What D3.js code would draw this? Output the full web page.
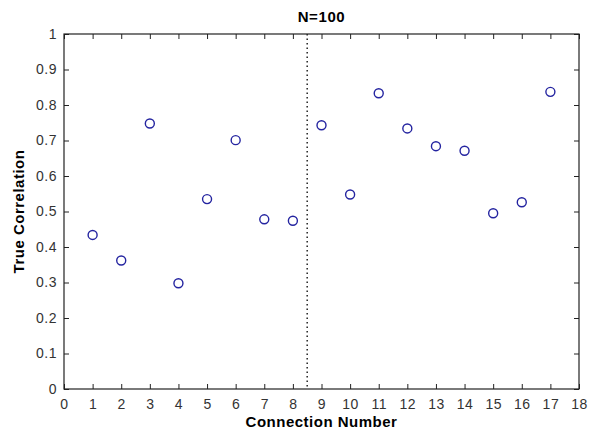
<!DOCTYPE html>
<html>
<head>
<meta charset="utf-8">
<script src="https://cdn.jsdelivr.net/npm/d3@7"></script>
<style>
  body { margin: 0; background: #fff; }
  svg text { font-family: "Liberation Sans", Arial, Helvetica, sans-serif; }
</style>
</head>
<body>
<svg id="chart" width="589" height="431"></svg>
<script>
"use strict";

// connection numbers and the true correlation for each
var connections = [1, 2, 3, 4, 5, 6, 7, 8, 9, 10, 11, 12, 13, 14, 15, 16, 17];
var correlations = [0.434, 0.362, 0.748, 0.298, 0.535, 0.701, 0.478, 0.474,
  0.743, 0.548, 0.833, 0.734, 0.684, 0.671, 0.495, 0.526, 0.837];
var xTicks = d3.range(0, 19);
var yTicks = [0, 0.1, 0.2, 0.3, 0.4, 0.5, 0.6, 0.7, 0.8, 0.9, 1];
var divider = 8.5;

(function () {
  var svg = d3.select("#chart"),
    plot_left = 64, plot_right = 579, plot_top = 34, plot_bottom = 389,
    tick_len = 5;

  var x = d3.scaleLinear().domain([0, 18]).range([plot_left, plot_right]);
  var y = d3.scaleLinear().domain([0, 1]).range([plot_bottom, plot_top]);

  function fmt(d) { return String(+d.toFixed(1)); }

  // bottom + left axes, ticks pointing inward
  svg.append("g")
    .attr("transform", "translate(0," + plot_bottom + ")")
    .call(d3.axisBottom(x).tickValues(xTicks).tickSizeInner(-tick_len).tickSizeOuter(0).tickPadding(10));

  svg.append("g")
    .attr("transform", "translate(" + plot_left + ",0)")
    .call(d3.axisLeft(y).tickValues(yTicks).tickFormat(fmt).tickSizeInner(-tick_len).tickSizeOuter(0).tickPadding(7));

  // mirrored ticks on top and right
  svg.append("g")
    .attr("transform", "translate(0," + plot_top + ")")
    .call(d3.axisTop(x).tickValues(xTicks).tickSizeInner(-tick_len).tickSizeOuter(0).tickFormat(""));

  svg.append("g")
    .attr("transform", "translate(" + plot_right + ",0)")
    .call(d3.axisRight(y).tickValues(yTicks).tickSizeInner(-tick_len).tickSizeOuter(0).tickFormat(""));

  svg.selectAll(".domain").remove();
  svg.selectAll(".tick line").attr("stroke", "#222");
  svg.selectAll(".tick text").attr("fill", "#333")
    .style("font-size", "14px").style("letter-spacing", "0.5px");

  // box
  svg.append("rect")
    .attr("x", plot_left).attr("y", plot_top)
    .attr("width", plot_right - plot_left).attr("height", plot_bottom - plot_top)
    .attr("fill", "none").attr("stroke", "#222").attr("stroke-width", 1.2);

  // dotted divider
  svg.append("line")
    .attr("x1", x(divider)).attr("x2", x(divider))
    .attr("y1", y(1)).attr("y2", y(0))
    .attr("stroke", "#222").attr("stroke-width", 1.5)
    .attr("stroke-dasharray", "1.5,3");

  // markers
  svg.selectAll(".pt")
    .data(connections)
    .enter().append("circle")
    .attr("class", "pt")
    .attr("cx", function (d) { return x(d); })
    .attr("cy", function (d, i) { return y(correlations[i]); })
    .attr("r", 4.5)
    .attr("fill", "none")
    .attr("stroke", "#2424a0")
    .attr("stroke-width", 1.4);

  // labels
  svg.append("text")
    .attr("x", (plot_left + plot_right) / 2).attr("y", 22)
    .attr("text-anchor", "middle")
    .style("font-size", "15px").style("font-weight", "bold").style("letter-spacing", "0.6px")
    .text("N=100");

  svg.append("text")
    .attr("x", (plot_left + plot_right) / 2).attr("y", 427)
    .attr("text-anchor", "middle")
    .style("font-size", "15px").style("font-weight", "bold").style("letter-spacing", "0.5px")
    .text("Connection Number");

  svg.append("text")
    .attr("transform", "translate(24," + (plot_top + plot_bottom) / 2 + ") rotate(-90)")
    .attr("text-anchor", "middle")
    .style("font-size", "15px").style("font-weight", "bold").style("letter-spacing", "0.5px")
    .text("True Correlation");
})();
</script>
</body>
</html>
